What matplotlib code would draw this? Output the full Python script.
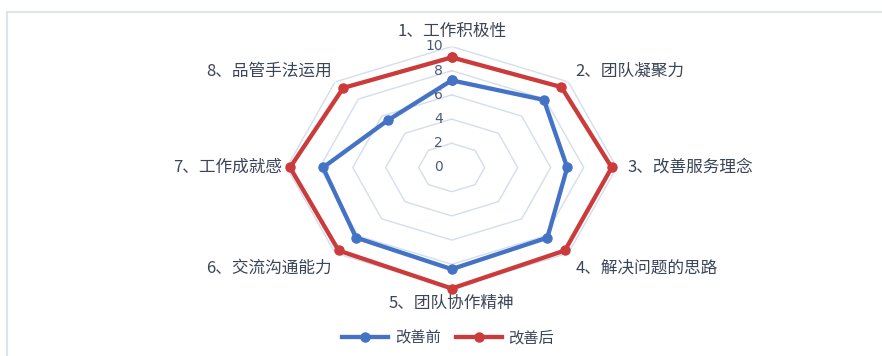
import matplotlib
matplotlib.use("Agg")
import matplotlib.pyplot as plt
import numpy as np
from matplotlib.lines import Line2D
from matplotlib.patches import Rectangle

plt.rcParams["font.family"] = ["Noto Sans CJK SC", "DejaVu Sans"]

# data
categories = ["1、工作积极性", "2、团队凝聚力", "3、改善服务理念", "4、解决问题的思路",
              "5、团队协作精神", "6、交流沟通能力", "7、工作成就感", "8、品管手法运用"]
before = [7.2, 7.9, 7.0, 8.2, 8.4, 8.2, 7.8, 5.5]
after = [9.1, 9.4, 9.7, 9.7, 10.0, 9.7, 9.8, 9.3]
r_ticks = [0, 2, 4, 6, 8, 10]
series_names = ["改善前", "改善后"]

BLUE = "#4472C4"
RED = "#CC3B3B"
GRID = "#d3deed"
TEXT = "#3b4559"

n = len(categories)
theta = np.arange(n) * 2 * np.pi / n
theta_c = np.append(theta, theta[0])

fig = plt.figure(figsize=(8.82, 3.56), dpi=100)
fig.add_artist(Rectangle((7 / 882, -0.1), 1.2, (356 - 12) / 356 + 0.1,
                         transform=fig.transFigure, fill=False,
                         ec="#dce4ee", lw=1.6))

ax = fig.add_axes([0.3251, 0.1896, 0.3741, 0.6798], projection="polar")
ax.set_aspect("auto")
ax.set_theta_offset(np.pi / 2)
ax.set_theta_direction(-1)
ax.set_ylim(0, 10)
ax.grid(False)
ax.set_xticks([])
ax.set_yticks([])
ax.spines["polar"].set_visible(False)
ax.patch.set_alpha(0)

# octagonal grid rings
for r in r_ticks[1:]:
    ax.plot(theta_c, [r] * (n + 1), color=GRID, lw=1.0, zorder=1)

# radial tick labels
for r in r_ticks:
    ax.annotate(str(r), xy=(0, r), xytext=(-9, 0), textcoords="offset pixels",
                ha="right", va="center", fontsize=10, color="#4d5b78",
                family=["DejaVu Sans"], zorder=2)

ax.plot(theta_c, before + before[:1], color=BLUE, lw=3.1, marker="o",
        ms=6.5, zorder=3, clip_on=False)
ax.plot(theta_c, after + after[:1], color=RED, lw=3.1, marker="o",
        ms=6.5, zorder=4, clip_on=False)

# category labels around the outer ring
offsets = [(0, 7, "center", "bottom"), (7, 11, "left", "center"),
           (11, 0, "left", "center"), (7, -15, "left", "center"),
           (0, -6, "center", "top"), (-3, -15, "right", "center"),
           (-5, 0, "right", "center"), (-3, 11, "right", "center")]
for t, lab, (dx, dy, ha, va) in zip(theta, categories, offsets):
    ax.annotate(lab, xy=(t, 10), xytext=(dx, dy), textcoords="offset pixels",
                ha=ha, va=va, fontsize=12, color=TEXT, annotation_clip=False)

handles = [Line2D([], [], color=BLUE, lw=3.1, marker="o", ms=6.5),
           Line2D([], [], color=RED, lw=3.1, marker="o", ms=6.5)]
fig.legend(handles, series_names, loc="center", bbox_to_anchor=(0.508, 1 - 338 / 356),
           ncol=2, frameon=False, fontsize=11, handlelength=3.0,
           handletextpad=0.45, columnspacing=1.0, labelcolor=TEXT)

fig.savefig("out.png", dpi=100)
